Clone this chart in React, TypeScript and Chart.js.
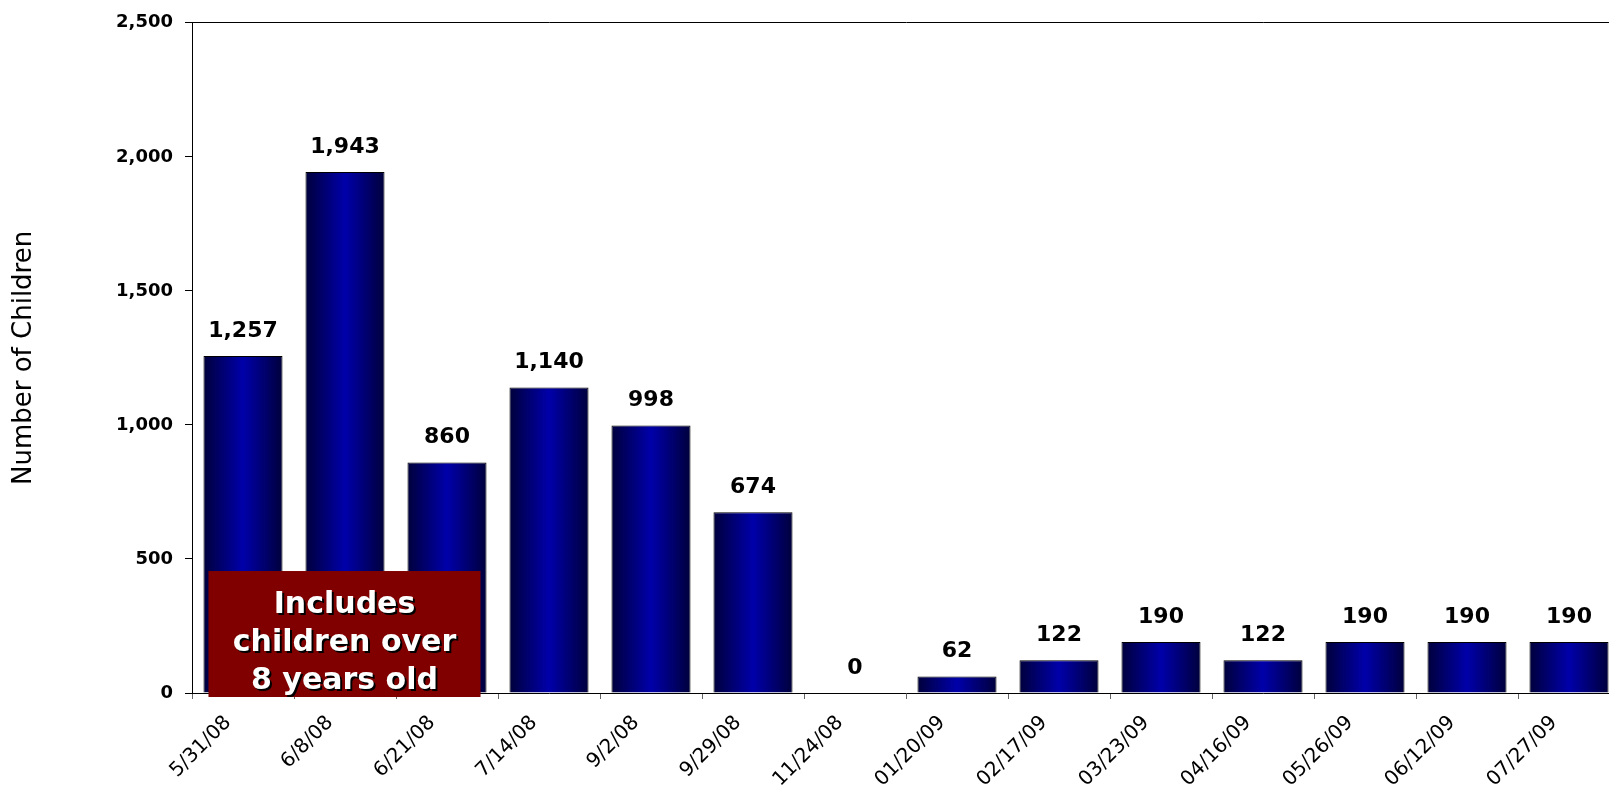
import React, { useEffect, useRef } from "react";
import { Chart, registerables } from "chart.js";

Chart.register(...registerables);

const categories = [
  "5/31/08", "6/8/08", "6/21/08", "7/14/08", "9/2/08", "9/29/08", "11/24/08",
  "01/20/09", "02/17/09", "03/23/09", "04/16/09", "05/26/09", "06/12/09", "07/27/09",
];
const childrenCounts = [1257, 1943, 860, 1140, 998, 674, 0, 62, 122, 190, 122, 190, 190, 190];
const yTicks = [0, 500, 1000, 1500, 2000, 2500];
const yAxisTitle = "Number of Children";
const noteLines = ["Includes", "children over", "8 years old"];
// annotation spans categories 0..2 and values 0..455
const noteCategoryRange = [0, 2];
const noteValueTop = 455;

const BAR_PCT = 0.775;

const valueLabels = {
  id: "valueLabels",
  afterDatasetsDraw(chart: any) {
    const ctx = chart.ctx;
    const meta = chart.getDatasetMeta(0);
    ctx.save();
    ctx.font = "bold 22px 'DejaVu Sans'";
    ctx.fillStyle = "#000";
    ctx.textAlign = "center";
    ctx.textBaseline = "alphabetic";
    meta.data.forEach((el: any, i: number) => {
      const v = childrenCounts[i];
      ctx.fillText(v.toLocaleString("en-US"), el.x, el.y - 19);
    });
    ctx.restore();
  },
};

const noteBox = {
  id: "noteBox",
  afterDraw(chart: any) {
    const ctx = chart.ctx;
    const xs = chart.scales.x;
    const ys = chart.scales.y;
    const catW = xs.width / categories.length;
    const half = (catW * BAR_PCT) / 2;
    const left = xs.getPixelForValue(noteCategoryRange[0]) - half + 5;
    const right = xs.getPixelForValue(noteCategoryRange[1]) + half - 6;
    const top = ys.getPixelForValue(noteValueTop);
    const bottom = ys.getPixelForValue(0) + 4;
    ctx.save();
    ctx.fillStyle = "#800000";
    ctx.fillRect(left, top, right - left, bottom - top);
    ctx.font = "bold 30px 'DejaVu Sans'";
    ctx.textAlign = "center";
    ctx.textBaseline = "alphabetic";
    const cx = (left + right) / 2;
    noteLines.forEach((line, i) => {
      const y = top + 42 + i * 38;
      ctx.fillStyle = "#000";
      ctx.fillText(line, cx + 2, y + 2);
      ctx.fillStyle = "#fff";
      ctx.fillText(line, cx, y);
    });
    ctx.restore();
  },
};

export default function App() {
  const ref = useRef<HTMLCanvasElement>(null);

  useEffect(() => {
    if (!ref.current) return;
    const chart = new Chart(ref.current, {
      type: "bar",
      data: {
        labels: categories,
        datasets: [
          {
            data: childrenCounts,
            categoryPercentage: 1,
            barPercentage: BAR_PCT,
            borderColor: "#000",
            borderWidth: (c: any) => (childrenCounts[c.dataIndex] === 0 ? 0 : 1),
            backgroundColor: (c: any) => {
              const chart = c.chart;
              const xs = chart.scales && chart.scales.x;
              if (!chart.chartArea || !xs || c.dataIndex === undefined) return "#0000a0";
              const cx = xs.getPixelForValue(c.dataIndex);
              const half = ((xs.width / categories.length) * BAR_PCT) / 2;
              const g = chart.ctx.createLinearGradient(cx - half, 0, cx + half, 0);
              g.addColorStop(0, "#00003c");
              g.addColorStop(0.5, "#0000aa");
              g.addColorStop(1, "#00003c");
              return g;
            },
          },
        ],
      },
      options: {
        responsive: false,
        animation: false,
        layout: { padding: { top: 18, left: 0, right: 0, bottom: 0 } },
        plugins: { legend: { display: false }, tooltip: { enabled: false } },
        scales: {
          x: {
            offset: true,
            grid: { drawOnChartArea: false, tickLength: 6, tickColor: "#666" },
            border: { color: "#000", width: 1 },
            ticks: {
              maxRotation: 45,
              minRotation: 45,
              autoSkip: false,
              padding: 12,
              labelOffset: -15,
              color: "#000",
              font: { family: "'DejaVu Sans'", size: 20 },
            },
            afterFit: (s: any) => {
              s.height = 96;
            },
          },
          y: {
            min: 0,
            max: 2500,
            afterBuildTicks: (s: any) => {
              s.ticks = yTicks.map((v) => ({ value: v }));
            },
            grid: {
              color: (c: any) => (c.tick && c.tick.value === 2500 ? "#000" : "rgba(0,0,0,0)"),
              tickColor: "#000",
              tickLength: 7,
            },
            border: { color: "#000", width: 1 },
            ticks: {
              padding: 12,
              color: "#000",
              font: { family: "'DejaVu Sans'", size: 18, weight: "bold" },
              callback: (v: any) => Number(v).toLocaleString("en-US"),
            },
            title: {
              display: true,
              text: yAxisTitle,
              color: "#000",
              font: { family: "'DejaVu Sans'", size: 26 },
              padding: { top: 9, bottom: 0 },
            },
            afterFit: (s: any) => {
              s.width = 192;
            },
          },
        },
      },
      plugins: [valueLabels, noteBox],
    });
    return () => chart.destroy();
  }, []);

  return (
    <div
      style={{
        position: "fixed",
        left: 0,
        top: 0,
        width: 1609,
        height: 789,
        overflow: "hidden",
        background: "#fff",
      }}
    >
      <canvas ref={ref} width={1620} height={789} style={{ display: "block" }} />
    </div>
  );
}
